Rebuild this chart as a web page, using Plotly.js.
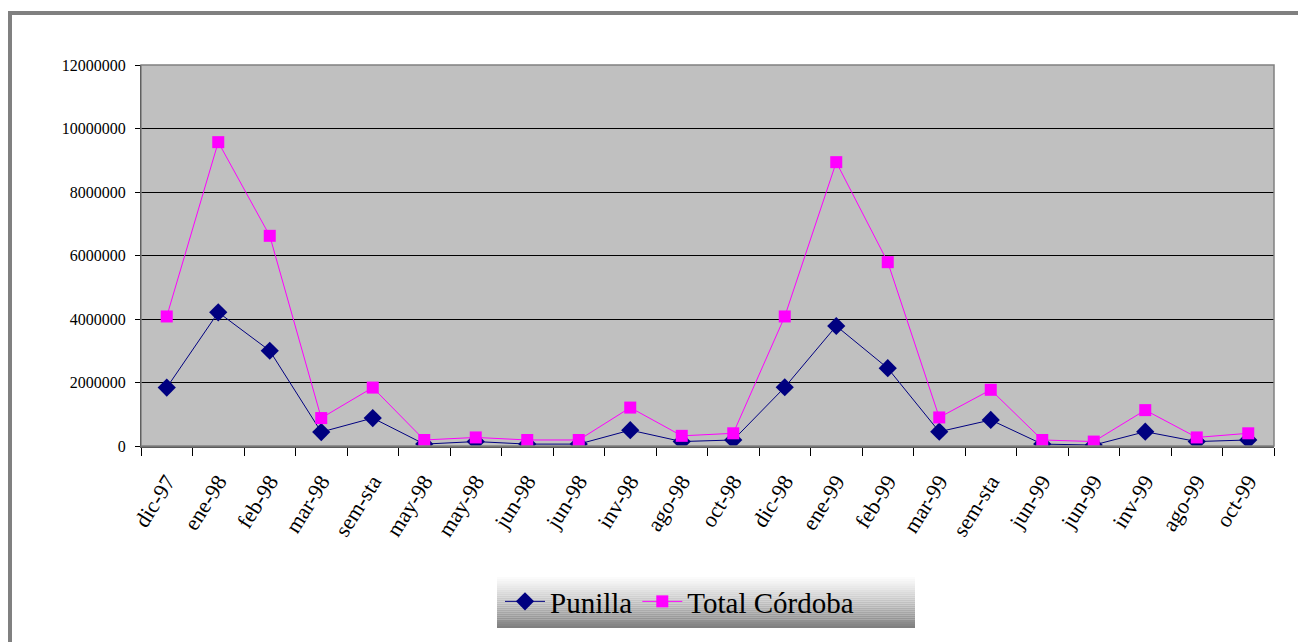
<!DOCTYPE html>
<html>
<head>
<meta charset="utf-8">
<script src="https://cdn.plot.ly/plotly-3.0.1.min.js"></script>
<style>
  html, body { margin: 0; padding: 0; background: #fff; }
  #chart { width: 1298px; height: 642px; }
  .fontwarm { position: absolute; left: 2px; top: 2px; font-family: 'Liberation Serif'; font-size: 2px; color: #fff; }
  .fontwarm::before { content: "Pu 0"; }
</style>
</head>
<body>
<div class="fontwarm"></div>
<div id="chart"></div>
<script>
const categories = ["dic-97","ene-98","feb-98","mar-98","sem-sta","may-98","may-98","jun-98","jun-98","inv-98","ago-98","oct-98",
                    "dic-98","ene-99","feb-99","mar-99","sem-sta","jun-99","jun-99","inv-99","ago-99","oct-99"];
const punilla = [1840000,4210000,3000000,440000,880000,60000,140000,60000,60000,500000,140000,190000,
                 1850000,3780000,2450000,450000,820000,60000,30000,450000,140000,190000];
const totalCordoba = [4080000,9570000,6620000,880000,1840000,190000,270000,190000,190000,1210000,320000,400000,
                      4080000,8940000,5790000,900000,1770000,190000,140000,1130000,270000,400000];
const yTicks = [0,2000000,4000000,6000000,8000000,10000000,12000000];

const idx = categories.map((_, i) => i);
const boundaries = categories.concat([""]).map((_, i) => i - 0.5);

const FONT = "Liberation Serif";

// plot-area geometry in pixels (for decorations only)
const L = 141, R = 1274, T = 65, B = 446, W = 1298, H = 642;
const px = x => (x - L) / (R - L);
const py = y => (B - y) / (B - T);

const shapes = [];
// legend gradient box
const lx0 = 497, lx1 = 915, ly0 = 575, ly1 = 628, strips = 26;
for (let s = 0; s < strips; s++) {
  const t = s / (strips - 1);
  const f = Math.pow(t, 1.1);
  const c = Math.round(255 - (255 - 128) * f);
  const y0 = ly0 + (ly1 - ly0) * s / strips;
  const y1 = ly0 + (ly1 - ly0) * (s + 1) / strips;
  shapes.push({type:'rect', xref:'paper', yref:'paper', x0:px(lx0), x1:px(lx1), y0:py(y0), y1:py(y1),
               fillcolor:`rgb(${c},${c},${c})`, line:{width:0}, layer:'below'});
}
// outer frame
shapes.push({type:'line', xref:'paper', yref:'paper', x0:px(8), x1:px(W+5), y0:py(13), y1:py(13), line:{color:'#808080', width:4}});
shapes.push({type:'line', xref:'paper', yref:'paper', x0:px(10), x1:px(10), y0:py(11), y1:py(H+5), line:{color:'#808080', width:4}});
// plot area border
shapes.push({type:'rect', xref:'paper', yref:'paper', x0:0, x1:1, y0:0, y1:1, line:{color:'#808080', width:1.5}, layer:'above'});

const traces = [
  {x: idx, y: punilla, name: 'Punilla', type: 'scatter', mode: 'lines+markers',
   line: {color: '#000080', width: 1},
   marker: {symbol: 'diamond', size: 14, color: '#000080', line: {width: 0}}},
  {x: idx, y: totalCordoba, name: 'Total Córdoba', type: 'scatter', mode: 'lines+markers',
   line: {color: '#FF00FF', width: 1},
   marker: {symbol: 'square', size: 12, color: '#FF00FF', line: {width: 0}}}
];

const layout = {
  width: W, height: H,
  margin: {l: L, r: W - R, t: T, b: H - B, pad: 0},
  paper_bgcolor: '#ffffff',
  plot_bgcolor: '#C0C0C0',
  showlegend: true,
  font: {family: FONT, color: '#000'},
  xaxis: {
    range: [-0.5, categories.length - 0.5],
    tickmode: 'array', tickvals: idx, ticktext: categories,
    tickangle: -58, ticks: '', ticklen: 0,
    tickfont: {size: 22, family: FONT, color: '#000'},
    ticklabelstandoff: 12,
    showgrid: false, zeroline: false,
    showline: true, linecolor: '#5a5a5a', linewidth: 2,
    minor: {tickmode: 'array', tickvals: boundaries, ticks: 'outside', ticklen: 8, tickcolor: '#000', tickwidth: 1, showgrid: false},
    fixedrange: true
  },
  yaxis: {
    range: [0, 12000000],
    tickmode: 'array', tickvals: yTicks, tickformat: 'd',
    ticks: 'outside', ticklen: 5, tickcolor: '#000', tickwidth: 1,
    tickfont: {size: 16, family: FONT, color: '#000'},
    ticklabelstandoff: 6,
    showgrid: true, gridcolor: '#000', gridwidth: 1,
    zeroline: false,
    showline: true, linecolor: '#000', linewidth: 1,
    fixedrange: true
  },
  legend: {
    orientation: 'h',
    x: px(500), xanchor: 'left',
    y: py(576), yanchor: 'top',
    bgcolor: 'rgba(0,0,0,0)',
    font: {size: 29, family: FONT, color: '#000'},
    itemwidth: 40, tracegroupgap: 0,
    itemsizing: 'trace'
  },
  shapes: shapes
};

function draw() { Plotly.newPlot('chart', traces, layout, {displayModeBar: false}); }
const ready = (document.fonts && document.fonts.ready) ? document.fonts.ready : Promise.resolve();
ready.then(() => requestAnimationFrame(draw), draw);
</script>
</body>
</html>
